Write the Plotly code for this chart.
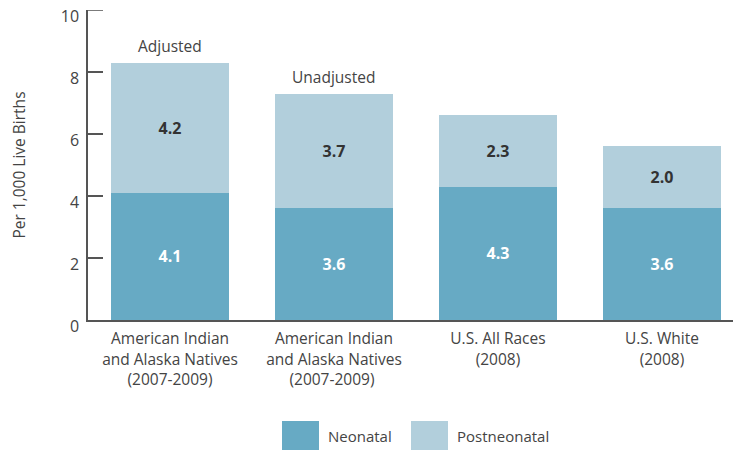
import plotly.graph_objects as go

categories = [
    "American Indian<br>and Alaska Natives<br>(2007-2009)",
    "American Indian<br>and Alaska Natives<br>(2007-2009) ",
    "U.S. All Races<br>(2008)",
    "U.S. White<br>(2008)",
]
neonatal = [4.1, 3.6, 4.3, 3.6]
postneonatal = [4.2, 3.7, 2.3, 2.0]
bar_notes = ["Adjusted", "Unadjusted", "", ""]
y_ticks = [0, 2, 4, 6, 8, 10]

NEO_COLOR = "#67aac4"
POST_COLOR = "#b2cfdc"
TEXT_COLOR = "#444444"
AXIS_COLOR = "#555555"
FONT = "Open Sans"

fig = go.Figure()
fig.add_trace(go.Bar(
    x=categories, y=neonatal, name="Neonatal",
    marker=dict(color=NEO_COLOR, line=dict(width=0)),
    text=[f"{v:.1f}" for v in neonatal], textposition="inside",
    insidetextanchor="middle",
    textfont=dict(family=FONT, size=16, color="white", weight="bold"),
    width=0.72, showlegend=False,
))
fig.add_trace(go.Bar(
    x=categories, y=postneonatal, name="Postneonatal",
    marker=dict(color=POST_COLOR, line=dict(width=0)),
    text=[f"{v:.1f}" for v in postneonatal], textposition="inside",
    insidetextanchor="middle",
    textfont=dict(family=FONT, size=16, color="#333333", weight="bold"),
    width=0.72, showlegend=False,
))

for cat, n, p, note in zip(categories, neonatal, postneonatal, bar_notes):
    if note:
        fig.add_annotation(x=cat, y=n + p, text=note, showarrow=False,
                           yanchor="bottom", yshift=4,
                           font=dict(family=FONT, size=15.5, color=TEXT_COLOR))

# page body has an 8px default margin, so the figure is sized 8px smaller
W, H = 733, 443
# manual legend (large squares); screen positions converted to paper coords
legend_items = [("Neonatal", NEO_COLOR, 282), ("Postneonatal", POST_COLOR, 411)]
for label, color, px in legend_items:
    fig.add_shape(type="rect", xref="paper", yref="paper",
                  x0=(px - 88) / 653, x1=(px + 37 - 88) / 653,
                  y0=(320 - 421) / 310, y1=(320 - 450) / 310,
                  fillcolor=color, line=dict(width=0), layer="above")
    fig.add_annotation(xref="paper", yref="paper",
                       x=(px + 44 - 88) / 653, y=(320 - 436) / 310,
                       text=label, showarrow=False, xanchor="left", yanchor="middle",
                       font=dict(family=FONT, size=15, color=TEXT_COLOR))

# top tick mark of the y axis (plotly drops the one at the range end)
fig.add_shape(type="line", xref="paper", yref="y", x0=0, x1=15 / 653,
              y0=y_ticks[-1], y1=y_ticks[-1],
              line=dict(color=AXIS_COLOR, width=1.5), layer="above")

fig.update_layout(
    barmode="stack",
    width=W, height=H,
    margin=dict(l=80, r=0, t=2, b=131, autoexpand=False),
    plot_bgcolor="white", paper_bgcolor="white",
    font=dict(family=FONT, size=15, color=TEXT_COLOR),
    xaxis=dict(
        range=[-0.5, 3.482], showline=True, linecolor=AXIS_COLOR, linewidth=1.5,
        ticks="", tickfont=dict(family=FONT, size=15.5, color=TEXT_COLOR),
        showgrid=False, zeroline=False, automargin=False, ticklabelstandoff=4,
    ),
    yaxis=dict(
        range=[0, 10.001], tickmode="array", tickvals=y_ticks,
        ticktext=[str(v) for v in y_ticks],
        showline=True, linecolor=AXIS_COLOR,
        linewidth=1.5, ticks="inside", ticklen=15, tickcolor=AXIS_COLOR, tickwidth=1.5,
        tickfont=dict(family=FONT, size=16, color=TEXT_COLOR),
        showgrid=False, zeroline=False, ticklabelstandoff=4, ticklabelshift=6,
        ticklabeloverflow="allow", automargin=False,
        title=dict(text="Per 1,000 Live Births", standoff=36,
                   font=dict(family=FONT, size=15.5, color=TEXT_COLOR)),
    ),
)

fig.write_html("out.html")
